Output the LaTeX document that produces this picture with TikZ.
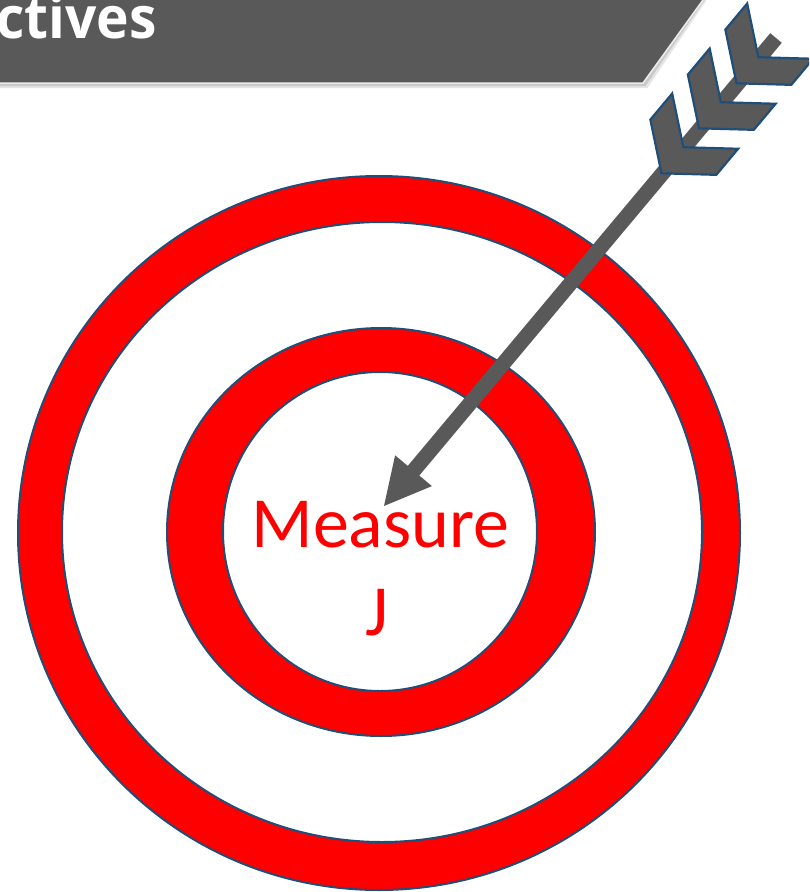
\documentclass[tikz,border=0pt]{standalone}
\usepackage{fontspec}
\setmainfont{Carlito}
\newfontfamily\bannerfont{Open Sans}
\definecolor{ringred}{RGB}{255,0,0}
\definecolor{ringedge}{RGB}{31,78,121}
\definecolor{arrowgray}{RGB}{89,89,89}
\definecolor{bannergray}{RGB}{89,89,89}
\begin{document}
\begin{tikzpicture}[x=1pt,y=-1pt,
  ring/.style={fill=ringred, draw=ringedge, line width=2pt, even odd rule},
  chev/.style={fill=arrowgray, draw=ringedge, line width=2.2pt, line join=miter},
  shaftline/.style={draw=arrowgray, line width=15pt, line cap=butt},
  titletext/.style={font=\bannerfont\bfseries\fontsize{58}{64}\selectfont, anchor=base east, inner sep=0pt, xscale=0.95},
  targettext/.style={font=\fontsize{72}{86}\selectfont, text=ringred, anchor=base, inner sep=0pt}]
\useasboundingbox (0,0) rectangle (809,892);
\clip (0,0) rectangle (809,892);
% banner
\fill[black, opacity=0.10] (-5,-5) -- (710,-5) -- (647.5,88) -- (-5,88) -- cycle;
\fill[black, opacity=0.12] (-5,-5) -- (708,-5) -- (645.5,86) -- (-5,86) -- cycle;
\path[fill=bannergray, draw=gray!15, line width=1.5pt] (-5,-5) -- (706.6,-5) -- (643,83) -- (-5,83) -- cycle;
\node[titletext, text=white] (title) at (157,38) {ctives};
% target rings
\path[ring] (379,533) ellipse [x radius=361, y radius=357] (382,532) ellipse [x radius=320, y radius=310];
\path[ring] (381,532) ellipse [x radius=214, y radius=204] (380,531.5) ellipse [x radius=157, y radius=159.5];
% text
\node[targettext] (m1) at (380.5,547) {Measure};
\node[targettext] (m2) at (377,635) {J};
% arrow
\coordinate (tail) at (776,38);
\coordinate (tip) at (384,506);
\coordinate (backin) at (411.6,473);
\coordinate (barbL) at (395.1,455.3);
\coordinate (barbR) at (431.9,486.1);
\draw[shaftline] (tail) -- (backin);
\fill[arrowgray] (tip) -- (barbL) -- (barbR) -- cycle;
% fletching chevrons
\foreach \cx/\cy in {736.5/83.3, 699/128.3, 661.5/173.3} {
  \begin{scope}[shift={(\cx pt,-\cy pt)}, x={(0.642pt,0.767pt)}, y={(0.767pt,-0.642pt)}]
    \path[chev] (0,0) -- (34,-43) -- (68,-43) -- (34,0) -- (68,43) -- (34,43) -- cycle;
  \end{scope}
}
\end{tikzpicture}
\end{document}
